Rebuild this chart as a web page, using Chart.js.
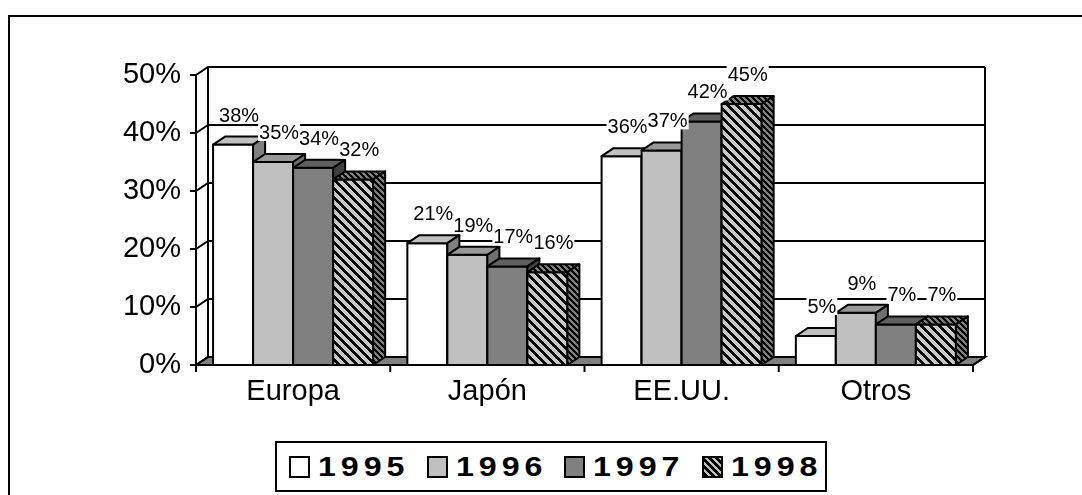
<!DOCTYPE html>
<html>
<head>
<meta charset="utf-8">
<script src="https://cdn.jsdelivr.net/npm/chart.js@4.4.1/dist/chart.umd.min.js"></script>
<style>
  html, body { margin: 0; padding: 0; background: #fff; overflow: hidden; }
  #wrap { position: relative; width: 1082px; height: 495px; overflow: hidden; }
  #frame { position: absolute; left: 8px; top: 15px; width: 1200px; height: 600px; border: 2px solid #000; box-sizing: border-box; }
  #c { position: absolute; left: 0; top: 0; }
  #legend { position: absolute; left: 275px; top: 441px; width: 552px; height: 51px; border: 2px solid #000; box-sizing: border-box; background: #fff; }
  .item { position: absolute; top: 0; height: 100%; display: flex; align-items: center; }
  .sw { width: 21px; height: 22px; border: 2px solid #000; box-sizing: border-box; flex: none; }
  .lbl { font: bold 28px Arial, "Liberation Sans", sans-serif; letter-spacing: 4.3px; line-height: 1; transform: scaleX(1.15); transform-origin: left center; margin-left: 8px; color: #000; white-space: nowrap; }
</style>
</head>
<body>
<div id="wrap">
  <div id="frame"></div>
  <canvas id="c" width="1082" height="495"></canvas>
  <div id="legend"></div>
</div>
<script>
// Market share by region, 1995-1998 (percent)
const categories = ['Europa', 'Japón', 'EE.UU.', 'Otros'];
const years = ['1995', '1996', '1997', '1998'];
const share1995 = [38, 21, 36, 5];
const share1996 = [35, 19, 37, 9];
const share1997 = [34, 17, 42, 7];
const share1998 = [32, 16, 45, 7];
const yTicks = [0, 10, 20, 30, 40, 50];

const FONT = 'Arial, "Liberation Sans", sans-serif';
const DX = 12, DY = -8;   // depth offset of the 3-D box

// diagonal hatch tile ("\" stripes)
function hatch(c1, c2, period, dark) {
  const t = document.createElement('canvas');
  t.width = period; t.height = period;
  const g = t.getContext('2d');
  const img = g.createImageData(period, period);
  const a = parseInt(c1.slice(1), 16), b = parseInt(c2.slice(1), 16);
  for (let y = 0; y < period; y++) {
    for (let x = 0; x < period; x++) {
      const k = (((x - y) % period) + period) % period;
      const col = k < dark ? a : b;
      const i = (y * period + x) * 4;
      img.data[i] = (col >> 16) & 255;
      img.data[i + 1] = (col >> 8) & 255;
      img.data[i + 2] = col & 255;
      img.data[i + 3] = 255;
    }
  }
  g.putImageData(img, 0, 0);
  return document.getElementById('c').getContext('2d').createPattern(t, 'repeat');
}

const hatchFront = hatch('#000000', '#c8c8c8', 9, 4);
const hatchDark = hatch('#000000', '#808080', 6, 3);

const faces = [
  { front: '#ffffff', top: '#c0c0c0', side: '#808080' },
  { front: '#c0c0c0', top: '#999999', side: '#707070' },
  { front: '#808080', top: '#606060', side: '#404040' },
  { front: hatchFront, top: hatchDark, side: hatchDark }
];

function poly(ctx, pts, fill) {
  ctx.beginPath();
  ctx.moveTo(pts[0][0], pts[0][1]);
  for (let i = 1; i < pts.length; i++) ctx.lineTo(pts[i][0], pts[i][1]);
  ctx.closePath();
  if (fill) { ctx.fillStyle = fill; ctx.fill(); }
  ctx.stroke();
}
function seg(ctx, pts) {
  ctx.beginPath();
  ctx.moveTo(pts[0][0], pts[0][1]);
  for (let i = 1; i < pts.length; i++) ctx.lineTo(pts[i][0], pts[i][1]);
  ctx.stroke();
}

const box3d = {
  id: 'box3d',
  beforeDatasetsDraw(chart) {
    const { ctx, chartArea: a, scales: { x, y } } = chart;
    ctx.save();
    ctx.strokeStyle = '#000';
    ctx.lineWidth = 2;
    ctx.lineJoin = 'miter';
    // floor
    poly(ctx, [[a.left, a.bottom], [a.right, a.bottom], [a.right + DX, a.bottom + DY], [a.left + DX, a.bottom + DY]], '#808080');
    // back wall edges and front value axis
    seg(ctx, [[a.left + DX, a.top + DY], [a.left + DX, a.bottom + DY]]);
    seg(ctx, [[a.right + DX, a.top + DY], [a.right + DX, a.bottom + DY]]);
    seg(ctx, [[a.left, a.top], [a.left, a.bottom]]);
    // gridlines: tick mark, side wall, back wall
    yTicks.forEach(v => {
      const yf = y.getPixelForValue(v);
      seg(ctx, [[a.left - 6, yf], [a.left, yf], [a.left + DX, yf + DY], [a.right + DX, yf + DY]]);
    });
    // category boundary ticks
    for (let i = 0; i <= categories.length; i++) {
      const xp = x.getPixelForValue(i - 0.5);
      seg(ctx, [[xp, a.bottom], [xp, a.bottom + 7]]);
    }
    seg(ctx, [[a.left, a.bottom], [a.right, a.bottom], [a.right + DX, a.bottom + DY]]);
    ctx.restore();
  },
  afterDatasetsDraw(chart) {
    const ctx = chart.ctx;
    const metas = chart.data.datasets.map((d, i) => chart.getDatasetMeta(i));
    ctx.save();
    ctx.strokeStyle = '#000';
    ctx.lineWidth = 2;
    ctx.lineJoin = 'round';
    for (let c = 0; c < categories.length; c++) {
      for (let s = 0; s < metas.length; s++) {
        const el = metas[s].data[c];
        const { x, y, base, width } = el.getProps(['x', 'y', 'base', 'width'], true);
        const L = x - width / 2, R = x + width / 2;
        const f = faces[s];
        poly(ctx, [[L, y], [R, y], [R, base], [L, base]], f.front);
        poly(ctx, [[L, y], [R, y], [R + DX, y + DY], [L + DX, y + DY]], f.top);
        poly(ctx, [[R, y], [R + DX, y + DY], [R + DX, base + DY], [R, base]], f.side);
      }
    }
    // value labels on white boxes
    ctx.font = '20px ' + FONT;
    ctx.textAlign = 'center';
    ctx.textBaseline = 'alphabetic';
    for (let c = 0; c < categories.length; c++) {
      for (let s = 0; s < metas.length; s++) {
        const el = metas[s].data[c];
        const { x, y } = el.getProps(['x', 'y'], true);
        const text = chart.data.datasets[s].data[c] + '%';
        const cx = x + DX / 2, cy = y - 30;
        const w = ctx.measureText(text).width;
        ctx.fillStyle = '#fff';
        ctx.fillRect(cx - w / 2 - 1, cy - 9, w + 2, 18);
        ctx.fillStyle = '#000';
        ctx.fillText(text, cx, cy + 7);
      }
    }
    ctx.restore();
  }
};

const series = [share1995, share1996, share1997, share1998];

new Chart(document.getElementById('c'), {
  type: 'bar',
  data: {
    labels: categories,
    datasets: years.map((yr, i) => ({
      label: yr,
      data: series[i],
      backgroundColor: faces[i].front,
      borderColor: '#000',
      borderWidth: 0,
      categoryPercentage: 0.824,
      barPercentage: 1
    }))
  },
  options: {
    responsive: false,
    animation: false,
    layout: { padding: { top: 75, right: 109, left: 0, bottom: 0 } },
    plugins: { legend: { display: false }, tooltip: { enabled: false } },
    scales: {
      x: {
        grid: { display: false, drawTicks: false },
        border: { display: false },
        ticks: { color: '#000', font: { family: FONT, size: 29 }, padding: 10, maxRotation: 0 },
        afterFit(s) { s.height = 130; }
      },
      y: {
        min: 0, max: 50,
        grid: { display: false, drawTicks: false },
        border: { display: false },
        ticks: { color: '#000', font: { family: FONT, size: 29 }, padding: 15, callback: v => v + '%' },
        afterBuildTicks(s) { s.ticks = yTicks.map(v => ({ value: v })); },
        afterFit(s) { s.width = 196; }
      }
    }
  },
  plugins: [box3d]
});

// legend
const swatchCss = [
  'background:#ffffff',
  'background:#c0c0c0',
  'background:#808080',
  'background:repeating-linear-gradient(45deg,#000 0 3px,#c0c0c0 3px 5px)'
];
const legend = document.getElementById('legend');
years.forEach((yr, i) => {
  const item = document.createElement('div');
  item.className = 'item';
  item.style.left = (12 + i * 137.7) + 'px';
  const sw = document.createElement('span');
  sw.className = 'sw';
  sw.style.cssText = swatchCss[i];
  const lb = document.createElement('span');
  lb.className = 'lbl';
  lb.textContent = yr;
  item.appendChild(sw);
  item.appendChild(lb);
  legend.appendChild(item);
});
</script>
</body>
</html>
